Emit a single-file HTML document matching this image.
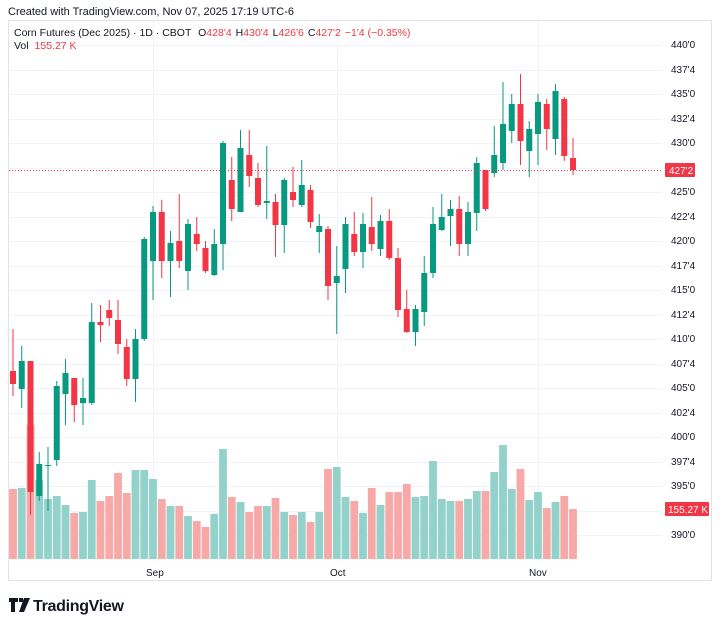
<!DOCTYPE html>
<html><head><meta charset="utf-8"><style>
body{margin:0;width:720px;height:627px;background:#fff;overflow:hidden;font-family:"Liberation Sans",sans-serif;color:#131722}
svg{position:absolute;left:0;top:0}
</style></head><body>
<svg width="720" height="627" viewBox="0 0 720 627" xmlns="http://www.w3.org/2000/svg" font-family="Liberation Sans, sans-serif">
<text x="8" y="15" font-size="11" fill="#131722">Created with TradingView.com, Nov 07, 2025 17:19 UTC-6</text>
<rect x="8.5" y="20.5" width="703" height="560" fill="#fff" stroke="#e0e3eb"/>
<g id="grid" stroke="#f0f3fa" stroke-width="1"></g>
<g id="vol"></g>
<g id="cand"></g>
<line x1="9" y1="170.5" x2="662" y2="170.5" stroke="#F23645" stroke-dasharray="1,2" stroke-width="1"/>
<g font-size="10" fill="#131722" id="plabels">
<text x="671" y="48">440'0</text><text x="671" y="73">437'4</text><text x="671" y="97">435'0</text><text x="671" y="122">432'4</text><text x="671" y="146">430'0</text><text x="671" y="195">425'0</text><text x="671" y="220">422'4</text><text x="671" y="244">420'0</text><text x="671" y="269">417'4</text><text x="671" y="293">415'0</text><text x="671" y="318">412'4</text><text x="671" y="342">410'0</text><text x="671" y="367">407'4</text><text x="671" y="391">405'0</text><text x="671" y="416">402'4</text><text x="671" y="440">400'0</text><text x="671" y="465">397'4</text><text x="671" y="489">395'0</text><text x="671" y="538">390'0</text>
</g>
<rect x="665" y="163" width="30" height="14" fill="#F23645" rx="1"/>
<text x="669" y="174" font-size="10" fill="#fff">427'2</text>
<rect x="665" y="502" width="44" height="14" fill="#F23645" rx="1"/>
<text x="668" y="513" font-size="10" fill="#fff">155.27 K</text>
<g font-size="10" fill="#131722">
<text x="146" y="576">Sep</text><text x="330" y="576">Oct</text><text x="529" y="576">Nov</text>
</g>
<text x="14" y="36" font-size="10.5" fill="#131722">Corn Futures (Dec 2025) · 1D · CBOT  <tspan dx="4">O</tspan><tspan fill="#F23645">428'4</tspan><tspan dx="4">H</tspan><tspan fill="#F23645">430'4</tspan><tspan dx="4">L</tspan><tspan fill="#F23645">426'6</tspan><tspan dx="4">C</tspan><tspan fill="#F23645">427'2</tspan><tspan dx="4" fill="#F23645">−1'4 (−0.35%)</tspan></text>
<text x="14" y="49" font-size="10.5" fill="#131722">Vol <tspan dx="3" fill="#F23645">155.27 K</tspan></text>
<g fill="#131722">
<path d="M9 598h9v4h-3v10h-4v-10h-2z M19 598h4v4h-4z M24 598h6l-6 14h-5z"/>
<text x="33" y="611" font-size="16" font-weight="bold" letter-spacing="-0.3">TradingView</text>
</g>
</svg>
<script>
var ns="http://www.w3.org/2000/svg";
function el(p,t,a){var e=document.createElementNS(ns,t);for(var k in a)e.setAttribute(k,a[k]);p.appendChild(e);}
var g=document.getElementById('grid');
for(var i=0;i<=20;i++){var y=45+i*24.5;if(y>560)break;el(g,'line',{x1:9,x2:662,y1:Math.round(y)+.5,y2:Math.round(y)+.5});}
[153,337,538].forEach(function(x){el(g,'line',{x1:x+.5,x2:x+.5,y1:21,y2:562});});
// [bodyTop,bodyBot,wickTop,wickBot,up]
var C=[[371,384,329,396,0],[361,389,346,408,1],[361,492,361,515,0],[464,496,452,501,1],[465,466,447,511,1],[386,460,381,466,1],[373,394,359,425,1],[378,405,378,422,0],[398,403,378,425,1],[322,403,303,405,1],[322,325,305,342,0],[310,318,300,326,0],[320,344,300,354,0],[347,379,339,386,0],[339,379,329,402,1],[239,339,237,341,1],[212,261,206,300,1],[212,261,200,278,0],[243,261,231,297,1],[241,261,194,268,0],[224,271,219,290,1],[234,244,217,251,0],[248,271,241,273,0],[244,275,229,276,1],[143,244,141,270,1],[180,209,157,221,0],[148,212,130,212,1],[155,176,130,187,0],[178,205,163,207,0],[201,203,146,219,1],[202,225,194,257,0],[180,225,178,253,1],[192,200,167,207,0],[185,205,160,207,1],[190,222,185,228,0],[226,232,214,253,1],[229,286,226,300,0],[276,283,246,334,1],[224,269,217,293,1],[234,252,212,256,0],[224,252,213,268,1],[227,244,197,251,0],[221,249,215,256,1],[221,258,209,260,0],[258,310,248,317,0],[309,332,290,333,0],[309,332,305,346,1],[273,312,256,326,1],[224,273,207,278,1],[217,230,194,231,1],[209,216,200,246,1],[209,244,196,256,0],[212,244,202,256,1],[163,213,157,231,1],[170,209,170,211,0],[155,173,126,177,1],[124,163,82,170,1],[104,131,94,143,1],[104,141,74,165,0],[129,151,121,177,1],[102,134,94,165,1],[104,129,99,150,0],[91,139,84,155,1],[99,156,97,161,0],[158,170,138,175,0]];
var V=[489,488,425,480,499,496,505,513,512,480,501,496,473,493,470,470,479,499,506,506,516,521,527,514,449,497,502,512,506,506,498,512,515,512,522,512,469,467,497,501,513,488,505,492,492,484,497,496,461,499,501,501,499,491,491,472,445,489,469,500,492,508,502,496,509];
var vg=document.getElementById('vol'),cg=document.getElementById('cand');
for(var i=0;i<65;i++){var x=13+i*8.75,c=C[i],up=c[4];
 el(vg,'rect',{x:(x-3.9).toFixed(2),y:V[i],width:7.8,height:559-V[i],fill:up?'#92d2cb':'#f7a9a7'});
 var col=up?'#089981':'#F23645';
 el(cg,'rect',{x:(x-0.5).toFixed(2),y:c[2],width:1,height:c[3]-c[2],fill:col});
 el(cg,'rect',{x:(x-3).toFixed(2),y:c[0],width:6,height:Math.max(1,c[1]-c[0]),fill:col});
}
</script>
</body></html>
